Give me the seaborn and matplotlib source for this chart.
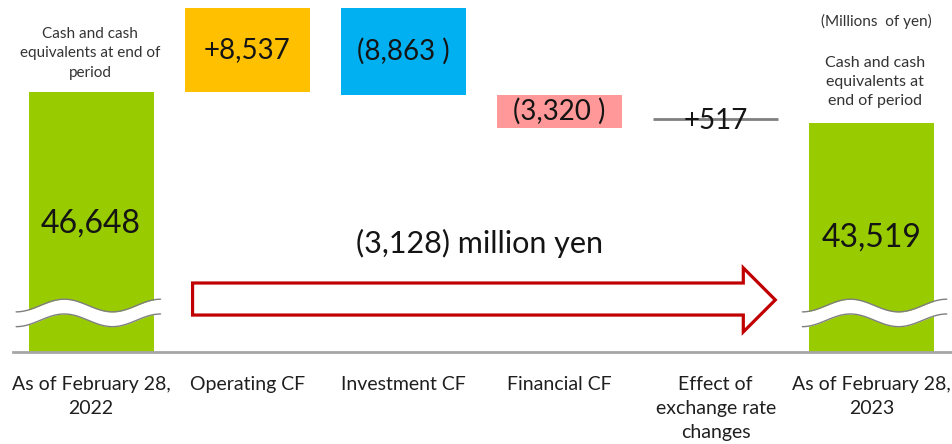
import numpy as np
import pandas as pd
import matplotlib.pyplot as plt
import matplotlib.transforms as mtransforms
from matplotlib.patches import Polygon
import seaborn as sns

# data (millions of yen)
categories = ["As of February 28,\n2022", "Operating CF", "Investment CF", "Financial CF",
              "Effect of\nexchange rate\nchanges", "As of February 28,\n2023"]
start_balance = 46648
changes = [8537, -8863, -3320, 517]
end_balance = 43519
value_labels = ["46,648", "+8,537", "(8,863 )", "(3,320 )", "+517", "43,519"]
net_change_label = "(3,128) million yen"
bar_colors = ["#99CC00", "#FFC000", "#00B0F0", "#FF9999", "#808080", "#99CC00"]

levels = start_balance + np.cumsum([0] + changes)
bottoms = [0] + [min(levels[i], levels[i + 1]) for i in range(len(changes))] + [0]
heights = [start_balance] + [abs(c) for c in changes] + [end_balance]


def draw_break(ax, xc, left, right, yc):
    trans = mtransforms.blended_transform_factory(ax.transData, ax.transAxes)
    t = np.linspace(0, 1, 120)
    xs = xc + left + (right - left) * t
    wave = -np.cos(3 * np.pi * t) * 0.018
    half = 0.021
    ax.fill_between(xs, yc - half + wave, yc + half + wave, transform=trans,
                    color="white", lw=0, zorder=3)
    ax.plot(xs, yc + half + wave, transform=trans, color="#7f7f7f", lw=1, zorder=4)
    ax.plot(xs, yc - half + wave, transform=trans, color="#7f7f7f", lw=1, zorder=4)


def waterfall():
    sns.set_style("white")
    plt.rcParams["font.family"] = ["Lato", "DejaVu Sans"]

    fig = plt.figure(figsize=(9.53, 4.44), dpi=100)
    ax = fig.add_axes([13 / 953, 92 / 444, 1 - 13 / 953, 352 / 444])

    df = pd.DataFrame({"item": categories, "height": heights})
    sns.barplot(data=df, x="item", y="height", order=categories, bottom=bottoms,
                width=0.8, color="#99CC00", ax=ax)
    for p, c in zip(ax.patches, bar_colors):
        p.set_facecolor(c)
        p.set_edgecolor("none")
    # tiny exchange-rate effect shown as a line
    ax.patches[4].set_visible(False)
    ax.hlines(levels[-1] + 400, 4 - 0.4, 4 + 0.4, color="#808080", lw=2, zorder=2)

    ax.set_xlim(-0.5, 5.52)
    ax.set_ylim(20200, 56000)
    ax.set_xlabel("")
    ax.set_ylabel("")
    ax.set_yticks([])
    for s in ["top", "right", "left"]:
        ax.spines[s].set_visible(False)
    ax.spines["bottom"].set_color("#a6a6a6")
    ax.spines["bottom"].set_linewidth(2)
    ax.tick_params(axis="x", length=0, pad=17, labelsize=14, labelcolor="#1f1f1f")
    for lab in ax.get_xticklabels():
        lab.set_linespacing(1.52)

    trans = mtransforms.blended_transform_factory(ax.transData, ax.transAxes)

    # value labels
    for i in range(1, 4):
        ax.text(i, bottoms[i] + heights[i] / 2, value_labels[i], ha="center", va="center",
                fontsize=20, color="#141414")
    ax.text(4, levels[-1] + 200, value_labels[4], ha="center", va="center", fontsize=20,
            color="#141414")
    ax.text(0, 0.366, value_labels[0], ha="center", va="center", fontsize=23,
            color="#141414", transform=trans)
    ax.text(5, 0.325, value_labels[5], ha="center", va="center", fontsize=23,
            color="#141414", transform=trans)

    # annotations
    fig.text(90 / 953, 1 - 53 / 444, "Cash and cash\nequivalents at end of\nperiod", ha="center",
             va="center", fontsize=11, color="#333333", linespacing=1.5)
    fig.text(875 / 953, 1 - 82 / 444, "Cash and cash\nequivalents at\nend of period", ha="center",
             va="center", fontsize=11.5, color="#333333", linespacing=1.45)
    fig.text(876 / 953, 1 - 21 / 444, "(Millions  of yen)", ha="center", va="center",
             fontsize=11, color="#333333")

    # breaks on the balance bars
    draw_break(ax, 0, -0.48, 0.445, 0.111)
    draw_break(ax, 5, -0.445, 0.48, 0.111)

    # net change arrow
    pts = [(0.65, 0.196), (4.177, 0.196), (4.177, 0.239), (4.382, 0.148),
           (4.177, 0.057), (4.177, 0.105), (0.65, 0.105)]
    ax.add_patch(Polygon(pts, closed=True, facecolor="white", edgecolor="#C00000",
                         lw=2.3, transform=trans, zorder=3))
    ax.text(2.49, 0.307, net_change_label, ha="center", va="center", fontsize=22,
            color="#141414", transform=trans)

    fig.savefig("out.png", dpi=100)


if __name__ == "__main__":
    waterfall()
